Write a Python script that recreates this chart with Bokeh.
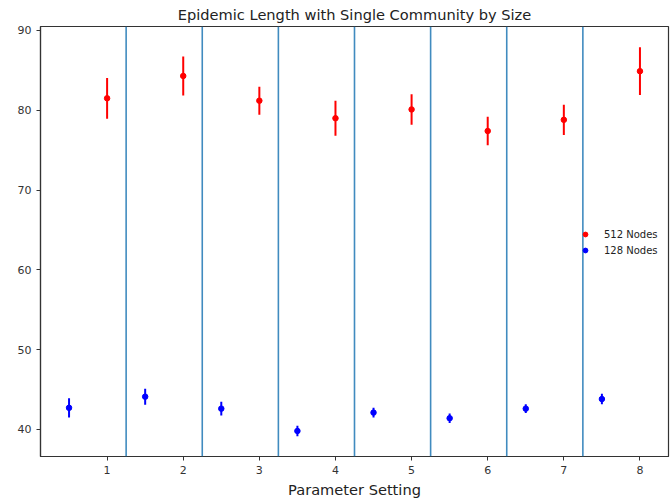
from bokeh.plotting import figure
from bokeh.models import ColumnDataSource, Span, Range1d, FixedTicker, Legend, LegendItem
from bokeh.embed import file_html
from bokeh.resources import INLINE

# data
x512 = [1, 2, 3, 4, 5, 6, 7, 8]
y512 = [81.5, 84.3, 81.2, 79.0, 80.1, 77.4, 78.8, 84.9]
e512 = [2.55, 2.45, 1.75, 2.2, 1.9, 1.8, 1.9, 3.0]
x128 = [0.5, 1.5, 2.5, 3.5, 4.5, 5.5, 6.5, 7.5]
y128 = [42.7, 44.1, 42.6, 39.8, 42.1, 41.4, 42.6, 43.8]
e128 = [1.2, 1.0, 0.85, 0.65, 0.6, 0.6, 0.55, 0.65]
separators = [1.25, 2.25, 3.25, 4.25, 5.25, 6.25, 7.25]
xticks = [1, 2, 3, 4, 5, 6, 7, 8]
yticks = [40, 50, 60, 70, 80, 90]

FONT = "DejaVu Sans"

p = figure(width=671, height=500, output_backend="svg", toolbar_location=None,
           x_range=Range1d(0.125, 8.375), y_range=Range1d(36.6, 90.5),
           title="Epidemic Length with Single Community by Size",
           min_border_left=40, min_border_right=3, min_border_bottom=43, min_border_top=0)

p.title.align = "center"
p.title.text_font = FONT
p.title.text_font_style = "normal"
p.title.text_font_size = "14.6px"
p.title.text_color = "#222222"
p.title.standoff = 7

p.xgrid.visible = False
p.ygrid.visible = False
p.outline_line_color = "#333333"
p.outline_line_width = 1.2

for ax in (p.xaxis, p.yaxis):
    ax.major_label_text_font = FONT
    ax.major_label_text_font_size = "11px"
    ax.major_label_text_color = "#333333"
    ax.axis_line_color = "#333333"
    ax.axis_line_width = 1.2
    ax.major_tick_line_color = "#333333"
    ax.major_tick_out = 4
    ax.major_tick_in = 0
    ax.minor_tick_line_color = None
p.xaxis.ticker = FixedTicker(ticks=xticks)
p.yaxis.ticker = FixedTicker(ticks=yticks)
p.xaxis.axis_label = "Parameter Setting"
p.xaxis.axis_label_text_font = FONT
p.xaxis.axis_label_text_font_style = "normal"
p.xaxis.axis_label_text_font_size = "14.6px"
p.xaxis.axis_label_text_color = "#222222"
p.xaxis.axis_label_standoff = 4

for s in separators:
    p.add_layout(Span(location=s, dimension="height", line_color="#1f77b4", line_width=1.6, line_alpha=0.85))

src512 = ColumnDataSource(dict(x=x512, y=y512,
                               lo=[a - b for a, b in zip(y512, e512)],
                               hi=[a + b for a, b in zip(y512, e512)]))
src128 = ColumnDataSource(dict(x=x128, y=y128,
                               lo=[a - b for a, b in zip(y128, e128)],
                               hi=[a + b for a, b in zip(y128, e128)]))

p.segment(x0="x", y0="lo", x1="x", y1="hi", source=src512, line_color="red", line_width=2)
r512 = p.scatter(x="x", y="y", source=src512, size=5.5, color="red")
p.segment(x0="x", y0="lo", x1="x", y1="hi", source=src128, line_color="blue", line_width=2)
r128 = p.scatter(x="x", y="y", source=src128, size=5.5, color="blue")

legend = Legend(items=[LegendItem(label="512 Nodes", renderers=[r512]),
                       LegendItem(label="128 Nodes", renderers=[r128])],
                location=(539, 200), border_line_color=None, background_fill_alpha=0,
                padding=0, margin=0, spacing=4, label_height=12, glyph_height=12,
                glyph_width=12, label_standoff=13,
                label_text_font=FONT, label_text_font_size="10px", label_text_color="#222222")
p.add_layout(legend)

open("out.html", "w").write(file_html(p, INLINE))
